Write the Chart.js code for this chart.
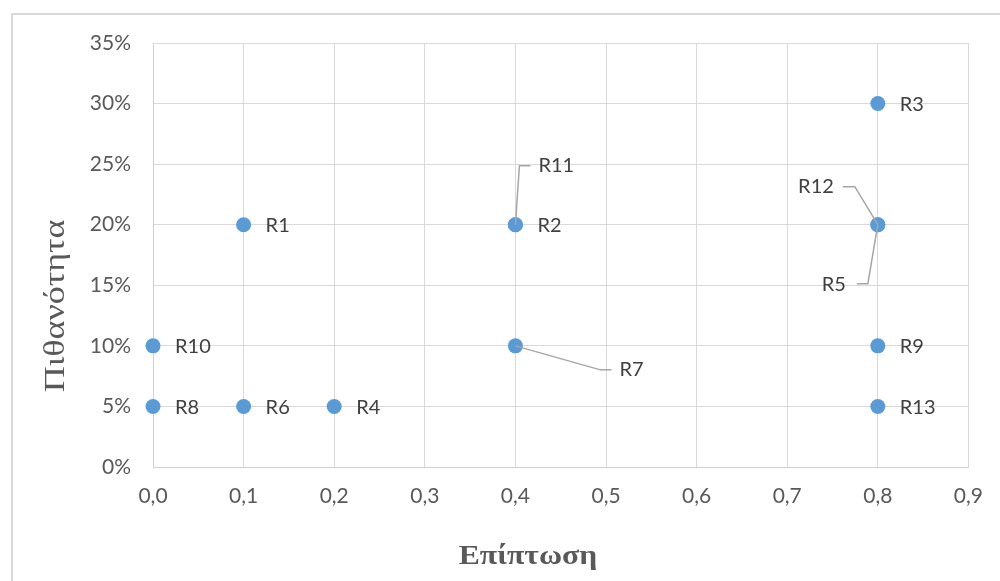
<!DOCTYPE html>
<html lang="el">
<head>
<meta charset="utf-8">
<title>Πιθανότητα – Επίπτωση</title>
<script src="https://cdn.jsdelivr.net/npm/chart.js@4.4.1/dist/chart.umd.min.js"></script>
<style>
  html, body { margin: 0; padding: 0; background: #ffffff; }
  canvas { display: block; }
</style>
</head>
<body>
<canvas id="chart" width="1000" height="581"></canvas>
<script>
// Risk register: impact (x) and probability (y) of each risk
const riskNames   = ['R1', 'R2', 'R3', 'R4', 'R5', 'R6', 'R7', 'R8', 'R9', 'R10', 'R11', 'R12', 'R13'];
const impact      = [0.1, 0.4, 0.8, 0.2, 0.8, 0.1, 0.4, 0.0, 0.8, 0.0, 0.4, 0.8, 0.8];
const probability = [0.20, 0.20, 0.30, 0.05, 0.20, 0.05, 0.10, 0.05, 0.10, 0.10, 0.20, 0.20, 0.05];

const xTitle = 'Επίπτωση';
const yTitle = 'Πιθανότητα';

const points = riskNames.map((n, i) => ({ x: impact[i], y: probability[i], name: n }));

// Labels that are moved away from their point and joined to it by a leader line.
// Each entry: label anchor offset (px from point), text alignment, and line bends (px from point).
const leaders = {
  R11: { dx: 23, dy: -59, align: 'left',  path: [[4, -59], [15, -59]] },
  R12: { dx: -44, dy: -38, align: 'right', path: [[-23, -38], [-35, -38]] },
  R5:  { dx: -32, dy: 60, align: 'right', path: [[-10, 59], [-21, 59]] },
  R7:  { dx: 104, dy: 24, align: 'left',  path: [[85, 24], [96, 24]] }
};

const frame = {
  id: 'frame',
  beforeDraw(chart) {
    const ctx = chart.ctx;
    ctx.save();
    ctx.fillStyle = '#ffffff';
    ctx.fillRect(0, 0, chart.width, chart.height);
    ctx.strokeStyle = '#d9d9d9';
    ctx.lineWidth = 2;
    ctx.strokeRect(12, 14, 1100, 700);
    ctx.restore();
  }
};

const pointLabels = {
  id: 'pointLabels',
  afterDatasetsDraw(chart) {
    const ctx = chart.ctx;
    const meta = chart.getDatasetMeta(0);
    ctx.save();
    ctx.font = '20px Lato';
    ctx.fillStyle = '#404040';
    ctx.textBaseline = 'middle';
    meta.data.forEach((el, i) => {
      const name = points[i].name;
      const px = el.x, py = el.y;
      const l = leaders[name];
      if (l) {
        ctx.beginPath();
        ctx.strokeStyle = '#a6a6a6';
        ctx.lineWidth = 1.5;
        ctx.moveTo(px, py);
        l.path.forEach(p => ctx.lineTo(px + p[0], py + p[1]));
        ctx.stroke();
        ctx.textAlign = l.align;
        ctx.fillText(name, px + l.dx, py + l.dy);
      } else {
        ctx.textAlign = 'left';
        ctx.fillText(name, px + 22, py + 1);
      }
    });
    ctx.restore();
  }
};

// Axis titles in a wide serif face (slightly stretched along the text direction)
const axisTitles = {
  id: 'axisTitles',
  afterDraw(chart) {
    const ctx = chart.ctx;
    ctx.save();
    ctx.fillStyle = '#595959';
    ctx.textAlign = 'center';
    ctx.textBaseline = 'middle';
    ctx.translate(528, 557);
    ctx.scale(1.13, 1);
    ctx.font = 'bold 28px "Liberation Serif"';
    ctx.fillText(xTitle, 0, 0);
    ctx.restore();

    ctx.save();
    ctx.fillStyle = '#595959';
    ctx.textAlign = 'center';
    ctx.textBaseline = 'middle';
    ctx.translate(56, 306);
    ctx.rotate(-Math.PI / 2);
    ctx.scale(1.2, 1);
    ctx.font = '30px "Liberation Serif"';
    ctx.fillText(yTitle, 0, 0);
    ctx.restore();
  }
};

new Chart(document.getElementById('chart'), {
  type: 'scatter',
  data: {
    datasets: [{
      data: points,
      backgroundColor: '#5b9bd5',
      borderWidth: 0,
      pointRadius: 7.5,
      pointHoverRadius: 7.5,
      clip: false
    }]
  },
  options: {
    responsive: false,
    devicePixelRatio: 1,
    animation: false,
    layout: { padding: { left: 0, top: 43, right: 31, bottom: 0 } },
    plugins: { legend: { display: false }, tooltip: { enabled: false } },
    scales: {
      x: {
        type: 'linear',
        min: 0,
        max: 0.9,
        ticks: {
          stepSize: 0.1,
          padding: 17,
          color: '#595959',
          font: { family: 'Lato', size: 21 },
          callback: v => Number(v).toFixed(1).replace('.', ',')
        },
        grid: { color: '#d9d9d9', lineWidth: 1, drawTicks: false },
        border: { color: '#d0d0d0', width: 1 },
        afterFit(s) { s.height = 114; }
      },
      y: {
        type: 'linear',
        min: 0,
        max: 0.35,
        ticks: {
          stepSize: 0.05,
          padding: 22,
          color: '#595959',
          font: { family: 'Lato', size: 21 },
          callback: v => Math.round(v * 100) + '%'
        },
        grid: { color: '#d9d9d9', lineWidth: 1, drawTicks: false },
        border: { color: '#d0d0d0', width: 1 },
        afterFit(s) { s.width = 153; }
      }
    }
  },
  plugins: [frame, pointLabels, axisTitles]
});
</script>
</body>
</html>
